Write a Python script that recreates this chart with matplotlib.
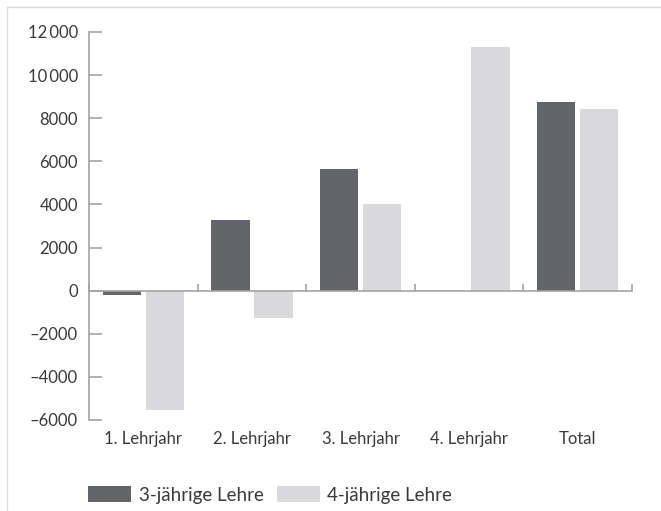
import numpy as np
import matplotlib.pyplot as plt
from matplotlib.lines import Line2D
from matplotlib.ticker import FuncFormatter

categories = ["1. Lehrjahr", "2. Lehrjahr", "3. Lehrjahr", "4. Lehrjahr", "Total"]
lehre3 = [-220, 3300, 5650, 0, 8750]
lehre4 = [-5550, -1250, 4000, 11300, 8420]
series_names = ["3-jährige Lehre", "4-jährige Lehre"]

dark = "#646569"
light = "#d9d9db"
axis_col = "#a3a3a3"
text_col = "#3a3a3a"

plt.rcParams['font.family'] = ['Lato', 'DejaVu Sans']

fig = plt.figure(figsize=(6.61, 5.11), dpi=100)
ax = fig.add_axes([89 / 661, 1 - 420 / 511, (632 - 89) / 661, (420 - 32) / 511])

x = np.arange(len(categories))
w = 0.354
off = 0.198
b1 = ax.bar(x - off, lehre3, w, color=dark, label=series_names[0])
b2 = ax.bar(x + off, lehre4, w, color=light, label=series_names[1])

ax.set_xlim(-0.5, len(categories) - 0.5)
ax.set_ylim(-6000, 12000)
ax.set_yticks(np.arange(-6000, 12001, 2000))


def fmt(v, pos):
    v = int(round(v))
    if abs(v) >= 10000:
        s = "{:,}".format(abs(v)).replace(",", "\u2009")
    else:
        s = str(abs(v))
    return ("\u2013" if v < 0 else "") + s


ax.yaxis.set_major_formatter(FuncFormatter(fmt))

for s in ["top", "right"]:
    ax.spines[s].set_visible(False)
ax.spines["left"].set_color(axis_col)
ax.spines["left"].set_linewidth(1.2)
ax.spines["bottom"].set_position(("data", 0))
ax.spines["bottom"].set_color(axis_col)
ax.spines["bottom"].set_linewidth(1.2)

ax.tick_params(axis="y", direction="in", length=9, width=1.2, color=axis_col,
               labelsize=12, labelcolor=text_col, pad=8)
ax.set_xticks(np.arange(-0.5, len(categories), 1.0))
ax.tick_params(axis="x", direction="in", length=5, width=1.2, color=axis_col,
               labelbottom=False)

sec = ax.secondary_xaxis("bottom")
sec.set_xticks(x)
sec.set_xticklabels(categories)
sec.spines["bottom"].set_visible(False)
sec.tick_params(length=0, labelsize=12, labelcolor=text_col, pad=8)

fig.legend(handles=[b1, b2], labels=series_names, loc="center left",
           bbox_to_anchor=(88 / 661, 16 / 511), borderaxespad=0, borderpad=0,
           ncol=2, frameon=False, fontsize=13.5, labelcolor=text_col,
           handlelength=2.3, handleheight=0.9, handletextpad=0.4,
           columnspacing=0.7)

# thin frame around the graphic
fig.add_artist(Line2D([7 / 661, 7 / 661], [0, 1 - 7 / 511], color="#dcdcdc", lw=1))
fig.add_artist(Line2D([7 / 661, 1], [1 - 7 / 511, 1 - 7 / 511], color="#dcdcdc", lw=1))

fig.savefig("out.png", dpi=100)
